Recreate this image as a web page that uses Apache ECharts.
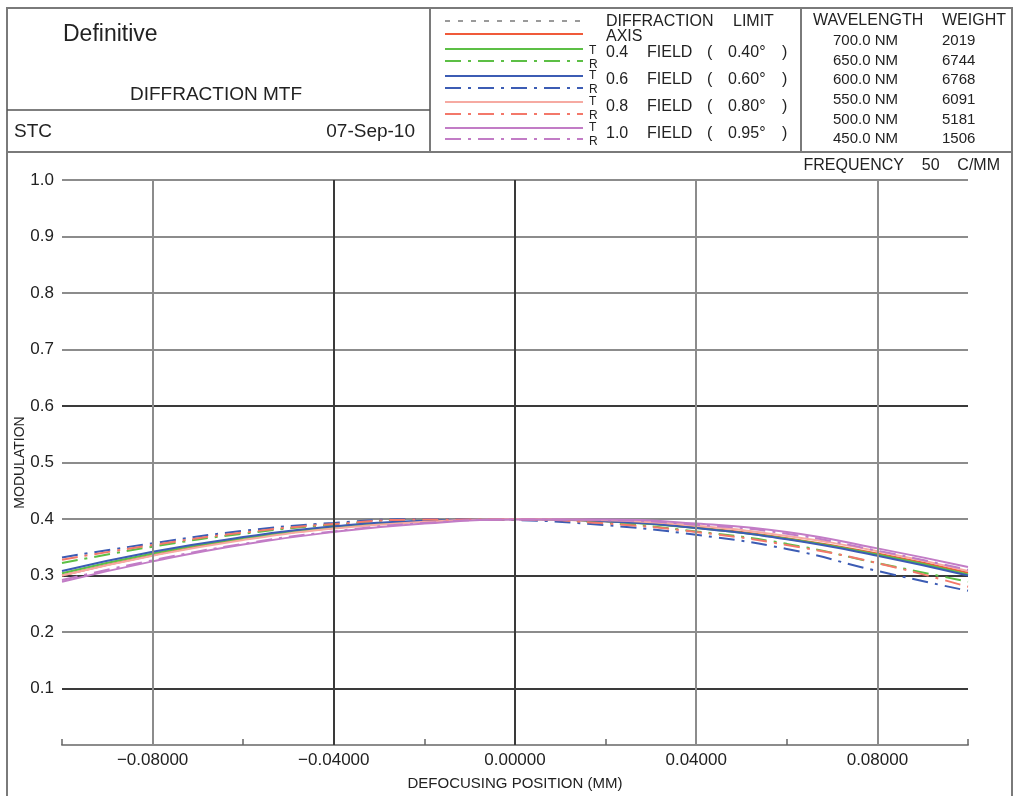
<!DOCTYPE html>
<html><head><meta charset="utf-8">
<script src="https://cdn.jsdelivr.net/npm/echarts@6/dist/echarts.min.js"></script>
<style>html,body{margin:0;padding:0;background:#fff}#c{width:1013px;height:796px}</style>
</head><body><div id="c"></div>
<script>
// ---- data ----
const defocus = [-0.1, -0.08, -0.06, -0.04, -0.02, 0, 0.02, 0.04, 0.06, 0.08, 0.1];
const axisT  = [0.300, 0.336, 0.364, 0.384, 0.396, 0.400, 0.396, 0.385, 0.366, 0.339, 0.305];
const f04T   = [0.304, 0.339, 0.366, 0.385, 0.396, 0.400, 0.396, 0.384, 0.365, 0.337, 0.302];
const f04R   = [0.322, 0.351, 0.374, 0.390, 0.399, 0.399, 0.393, 0.378, 0.356, 0.322, 0.289];
const f06T   = [0.308, 0.342, 0.368, 0.387, 0.397, 0.400, 0.396, 0.384, 0.364, 0.335, 0.300];
const f06R   = [0.332, 0.357, 0.379, 0.393, 0.400, 0.398, 0.389, 0.372, 0.347, 0.308, 0.273];
const f08T   = [0.300, 0.335, 0.363, 0.383, 0.395, 0.400, 0.398, 0.388, 0.370, 0.343, 0.308];
const f08R   = [0.328, 0.354, 0.376, 0.391, 0.399, 0.399, 0.392, 0.377, 0.354, 0.322, 0.280];
const f10T   = [0.289, 0.325, 0.355, 0.377, 0.392, 0.399, 0.399, 0.392, 0.377, 0.348, 0.315];
const f10R   = [0.292, 0.327, 0.356, 0.378, 0.393, 0.399, 0.398, 0.390, 0.374, 0.344, 0.310];
const fieldNums = ['0.4', '0.6', '0.8', '1.0'];
const fieldAngles = ['0.40°', '0.60°', '0.80°', '0.95°'];
const wavelengths = ['700.0 NM', '650.0 NM', '600.0 NM', '550.0 NM', '500.0 NM', '450.0 NM'];
const weights = ['2019', '6744', '6768', '6091', '5181', '1506'];
const xGridGray = [-0.08, 0.04, 0.08];
const xGridDark = [-0.04, 0];

// ---- styles ----
const FONT = "'Liberation Sans', Arial, sans-serif";
const DASHDOT = [16, 7, 3, 7];
const C = { axis:'#f05a3a', green:'#5cbf45', blue:'#3c5cb4', pink:'#f6aaa2', salmon:'#f3786a', purple:'#c27cc6', diff:'#9a9a9a' };
const seriesDefs = [
  { name:'AXIS', data: axisT, color:C.axis, type:'solid' },
  { name:'0.4 T', data: f04T, color:C.green, type:'solid' },
  { name:'0.4 R', data: f04R, color:C.green, type:DASHDOT },
  { name:'0.6 T', data: f06T, color:C.blue, type:'solid' },
  { name:'0.6 R', data: f06R, color:C.blue, type:DASHDOT },
  { name:'0.8 T', data: f08T, color:C.pink, type:'solid' },
  { name:'0.8 R', data: f08R, color:C.salmon, type:DASHDOT },
  { name:'1.0 T', data: f10T, color:C.purple, type:'solid' },
  { name:'1.0 R', data: f10R, color:C.purple, type:DASHDOT }
];

const GRAY = '#8c8c8c', DARK = '#3a3a3a', NONE = 'rgba(0,0,0,0)';
const ySplitColors = [NONE, DARK, GRAY, DARK, GRAY, GRAY, DARK, GRAY, GRAY, GRAY, GRAY];

// ---- header graphics ----
const g = [];
function txt(x, y, s, size, align) {
  g.push({ type:'text', x, y, silent:true,
    style:{ text:s, fill:'#222', font: size + 'px ' + FONT, textAlign: align || 'left', textVerticalAlign:'middle' } });
}
function ln(x1, y1, x2, y2, color, w, dash) {
  g.push({ type:'line', silent:true, shape:{x1,y1,x2,y2}, style:{ stroke:color, lineWidth:w, lineDash: dash || null } });
}
g.push({ type:'rect', silent:true, shape:{x:7, y:8, width:1005, height:800}, style:{ fill:NONE, stroke:'#7a7a7a', lineWidth:2 } });
ln(7, 152, 1012, 152, '#7a7a7a', 2);
ln(430, 8, 430, 152, '#7a7a7a', 2);
ln(801, 8, 801, 152, '#7a7a7a', 2);
ln(7, 110, 430, 110, '#555', 1.5);
// left block
txt(63, 35, 'Definitive', 23, 'left');
txt(216, 95, 'DIFFRACTION MTF', 19, 'center');
txt(14, 132, 'STC', 19, 'left');
txt(415, 132, '07-Sep-10', 19, 'right');
// legend block
ln(445, 21, 583, 21, C.diff, 2, [5, 8]);
txt(606, 22, 'DIFFRACTION', 16, 'left');
txt(733, 22, 'LIMIT', 16, 'left');
ln(445, 34, 583, 34, C.axis, 2);
txt(606, 37, 'AXIS', 16, 'left');
const rowY = [53, 80, 107, 134];
const legPairs = [[C.green, C.green], [C.blue, C.blue], [C.pink, C.salmon], [C.purple, C.purple]];
const tY = [51, 76, 102, 128], rY = [65, 90, 116, 142];
const solidLY = [49, 76, 102, 128], dashLY = [61, 88, 114, 139];
for (let i = 0; i < 4; i++) {
  ln(445, solidLY[i], 583, solidLY[i], legPairs[i][0], 2);
  ln(445, dashLY[i], 583, dashLY[i], legPairs[i][1], 2, DASHDOT);
  txt(589, tY[i], 'T', 12, 'left');
  txt(589, rY[i], 'R', 12, 'left');
  txt(606, rowY[i], fieldNums[i], 16, 'left');
  txt(647, rowY[i], 'FIELD', 16, 'left');
  txt(707, rowY[i], '(', 16, 'left');
  txt(728, rowY[i], fieldAngles[i], 16, 'left');
  txt(782, rowY[i], ')', 16, 'left');
}
// wavelength block
txt(813, 21, 'WAVELENGTH', 16, 'left');
txt(942, 21, 'WEIGHT', 16, 'left');
for (let i = 0; i < wavelengths.length; i++) {
  txt(833, 41 + i * 19.6, wavelengths[i], 15, 'left');
  txt(942, 41 + i * 19.6, weights[i], 15, 'left');
}
// frequency
txt(1000, 166, 'FREQUENCY    50    C/MM', 16, 'right');

const chart = echarts.init(document.getElementById('c'), null, { renderer:'canvas' });
chart.setOption({
  animation: false,
  backgroundColor: '#fff',
  textStyle: { fontFamily: FONT },
  grid: { left: 62, right: 45, top: 180, bottom: 45, containLabel: false },
  xAxis: {
    type: 'value', min: -0.1, max: 0.1, interval: 0.02,
    name: 'DEFOCUSING POSITION (MM)', nameLocation: 'middle', nameGap: 31,
    nameTextStyle: { fontSize: 15, color: '#222', fontFamily: FONT },
    axisLine: { show: true, onZero: false, lineStyle: { color: '#8c8c8c', width: 2 } },
    axisTick: { show: true, inside: true, length: 6, lineStyle: { color: '#666', width: 1.5 } },
    axisLabel: {
      margin: 7, fontSize: 17, color: '#222', fontFamily: FONT, showMinLabel: true, showMaxLabel: true,
      formatter: v => {
        const k = Math.round(v * 100);
        if (Math.abs(k) >= 10 || k % 4 !== 0) return '';
        return (k < 0 ? '\u2212' : '') + Math.abs(v).toFixed(5);
      }
    },
    splitLine: { show: false }
  },
  yAxis: {
    type: 'value', min: 0, max: 1, interval: 0.1,
    name: 'MODULATION', nameLocation: 'middle', nameGap: 35, nameRotate: 90, nameMoveOverlap: false,
    nameTextStyle: { fontSize: 14, color: '#222', fontFamily: FONT },
    axisLine: { show: true, lineStyle: { color: '#8c8c8c', width: 2 } },
    axisTick: { show: false },
    axisLabel: { margin: 8, fontSize: 17, color: '#222', fontFamily: FONT,
      formatter: v => (Math.abs(v) < 1e-9 ? '' : v.toFixed(1)) },
    splitLine: { show: true, lineStyle: { color: ySplitColors, width: 2 } }
  },
  series: [{
    name: 'grid', type: 'line', data: [], z: 1, silent: true,
    markLine: {
      silent: true, symbol: 'none', label: { show: false }, animation: false,
      data: xGridGray.map(v => ({ xAxis: v, lineStyle: { color: GRAY, width: 2, type: 'solid' } }))
        .concat(xGridDark.map(v => ({ xAxis: v, lineStyle: { color: DARK, width: 2, type: 'solid' } })))
    }
  }].concat(seriesDefs.map(s => ({
    name: s.name, type: 'line', smooth: true, showSymbol: false, symbol: 'none',
    data: defocus.map((x, i) => [x, s.data[i]]),
    lineStyle: { color: s.color, width: 2, type: s.type },
    itemStyle: { color: s.color }, z: 3
  }))),
  graphic: g
});
</script>
</body></html>
